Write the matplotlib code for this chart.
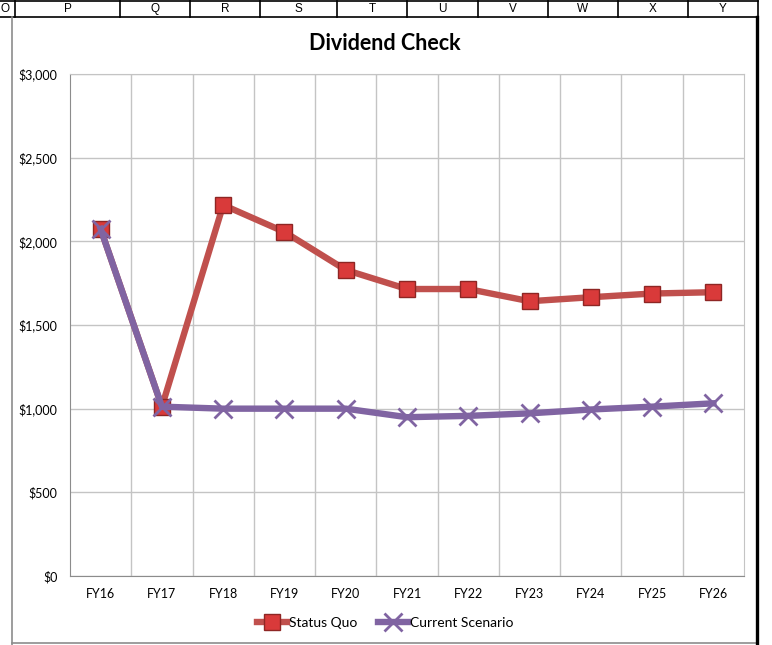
import matplotlib.pyplot as plt
from matplotlib.lines import Line2D

# data
years = ["FY16", "FY17", "FY18", "FY19", "FY20", "FY21", "FY22", "FY23", "FY24", "FY25", "FY26"]
status_quo = [2074, 1012, 2217, 2056, 1829, 1715, 1715, 1642, 1666, 1688, 1696]
current = [2074, 1012, 1000, 1000, 1000, 949, 957, 972, 995, 1012, 1032]
col_letters = ["O", "P", "Q", "R", "S", "T", "U", "V", "W", "X", "Y"]
col_edges = [-20, 15, 120, 190, 260, 337, 407, 478, 548, 618, 688, 758]

W, H = 772, 645
fig = plt.figure(figsize=(W / 100, H / 100), dpi=100)
txt_font = ["Lato", "DejaVu Sans"]

def fx(px):
    return px / W

def fy(py):
    return 1 - py / H

# === spreadsheet header row ===
for y in (1, 17):
    fig.add_artist(Line2D([0, fx(758)], [fy(y), fy(y)], color="black", lw=1.2))
for e in col_edges[1:]:
    fig.add_artist(Line2D([fx(e), fx(e)], [fy(1), fy(17)], color="black", lw=1.2))
for i, letter in enumerate(col_letters):
    cx = (max(col_edges[i], 0) + col_edges[i + 1]) / 2
    if i == 0:
        cx = 5
    fig.text(fx(cx), fy(9), letter, ha="center", va="center",
             fontsize=8.5, family="Liberation Sans")

# chart frame
fig.add_artist(Line2D([fx(12.5), fx(12.5)], [fy(17), fy(645)], color="#8c8c8c", lw=1.2))
fig.add_artist(Line2D([fx(12.5), fx(757)], [fy(642.5), fy(642.5)], color="#8c8c8c", lw=1.2))
fig.add_artist(Line2D([fx(757), fx(757)], [fy(17), fy(645)], color="black", lw=2.4))

# === plot area ===
ax = fig.add_axes([fx(70), fy(576), fx(744) - fx(70), (576 - 74) / H])
x = list(range(len(years)))

ax.plot(x, status_quo, color="#C0504D", lw=4.6, marker="s", markersize=11,
        markerfacecolor="#D93A3A", markeredgecolor="#8E2624", markeredgewidth=1,
        label="Status Quo", zorder=3)
ax.plot(x, current, color="#8064A2", lw=4.6, marker="x", markersize=13,
        markeredgewidth=2, markeredgecolor="#8064A2",
        label="Current Scenario", zorder=4)

ax.set_xlim(-0.5, len(years) - 0.5)
ax.set_ylim(0, 3000)
ax.set_yticks(range(0, 3001, 500))
ax.set_yticklabels([f"${v:,}" for v in range(0, 3001, 500)], family=txt_font, fontsize=9)
ax.set_xticks(x)
ax.set_xticklabels(years, family=txt_font, fontsize=9)
ax.set_xticks([i + 0.5 for i in x[:-1]], minor=True)
ax.tick_params(axis="both", which="both", length=0)
ax.tick_params(axis="x", pad=9)
ax.tick_params(axis="y", pad=9)
ax.grid(True, axis="y", which="major", color="#c4c4c4", lw=1)
ax.grid(True, axis="x", which="minor", color="#c4c4c4", lw=1)
ax.set_axisbelow(True)
for s in ("top", "right"):
    ax.spines[s].set_color("#c4c4c4")
for s in ("left", "bottom"):
    ax.spines[s].set_color("#8c8c8c")

fig.text(fx(385), fy(44), "Dividend Check", ha="center", va="center",
         fontsize=15.5, fontweight="bold", family=txt_font)

leg = ax.legend(loc="center", bbox_to_anchor=(fx(385), fy(623)),
                bbox_transform=fig.transFigure, ncol=2, frameon=False,
                prop={"family": txt_font, "size": 10}, handlelength=2.2,
                handletextpad=0.1, columnspacing=1.5)

fig.savefig("out.png", dpi=100)
